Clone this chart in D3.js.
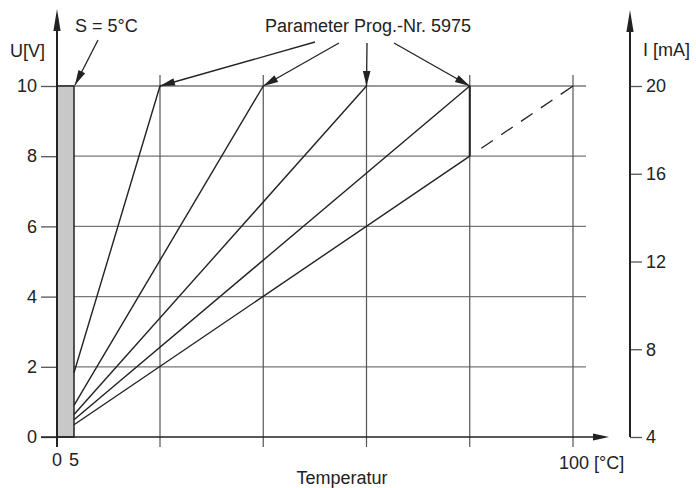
<!DOCTYPE html>
<html><head><meta charset="utf-8">
<script src="https://cdn.jsdelivr.net/npm/d3@7"></script>
<style>
body{margin:0;background:#fff}
text{font-family:"Liberation Sans",Arial,sans-serif;fill:#222;font-size:18px}
</style></head><body>
<svg id="c" width="696" height="488"></svg>
<script>
// ---- data ----
const uTicks = [0, 2, 4, 6, 8, 10];
const iTicks = [4, 8, 12, 16, 20];
const tempGrid = [20, 40, 60, 80, 100];
const xTickLabels = [0, 5];
const setpoint = 5;           // S = 5°C
const lineStartU = [1.83, 0.9, 0.64, 0.49, 0.35];   // U at 5°C
const lineEndT   = [20, 40, 60, 80, 80];
const lineEndU   = [10, 10, 10, 10, 8];
const arrowTargetsT = [20, 40, 60, 80];
const dashedFrom = [80, 8];
const dashedTo   = [100, 10];

// ---- scales ----
const svg = d3.select("#c");
const x = d3.scaleLinear().domain([0, 5, 20, 100]).range([57, 74, 160, 573]);
const y = d3.scaleLinear().domain([0, 10]).range([437, 86]);
const yI = d3.scaleLinear().domain([4, 20]).range([437, 86]);

const ink = "#222";

// horizontal grid
svg.append("g").selectAll("line").data(uTicks.filter(d => d > 0)).join("line")
  .attr("x1", x(0)).attr("x2", 586).attr("y1", d => y(d)).attr("y2", d => y(d))
  .attr("stroke", "#777").attr("stroke-width", 1.3);
// vertical grid
svg.append("g").selectAll("line").data(tempGrid).join("line")
  .attr("x1", d => x(d)).attr("x2", d => x(d)).attr("y1", 75).attr("y2", 447)
  .attr("stroke", "#555").attr("stroke-width", 1.2);

// left axis ticks
const gl = svg.append("g").attr("transform", `translate(${x(0)},0)`)
  .call(d3.axisLeft(y).tickValues(uTicks).tickSize(16).tickPadding(4).tickFormat(d3.format("d")));
gl.select(".domain").remove();
gl.selectAll(".tick line").attr("stroke", "#555").attr("stroke-width", 1.3);
gl.selectAll(".tick text").attr("font-size", "17.5px").attr("font-family", null).attr("fill", ink);

// right axis
const xr = 630;
const gr = svg.append("g").attr("transform", `translate(${xr},0)`)
  .call(d3.axisRight(yI).tickValues(iTicks).tickSize(12).tickPadding(4).tickFormat(d3.format("d")));
gr.select(".domain").remove();
gr.selectAll(".tick line").attr("stroke", "#555").attr("stroke-width", 1.3);
gr.selectAll(".tick text").attr("font-size", "17.5px").attr("font-family", null).attr("fill", ink);

// setpoint bar
svg.append("rect").attr("x", x(0)).attr("y", y(10))
  .attr("width", x(setpoint) - x(0)).attr("height", y(0) - y(10))
  .attr("fill", "#c8c8c8").attr("stroke", ink).attr("stroke-width", 1.5);

// x axis line
svg.append("line").attr("x1", 41).attr("x2", 600).attr("y1", y(0)).attr("y2", y(0))
  .attr("stroke", ink).attr("stroke-width", 1.6);
svg.append("path").attr("d", `M609,${y(0)} L593,${y(0)-3.5} L593,${y(0)+3.5} Z`).attr("fill", ink);
// left axis line
svg.append("line").attr("x1", x(0)).attr("x2", x(0)).attr("y1", 447).attr("y2", 20)
  .attr("stroke", ink).attr("stroke-width", 2);
svg.append("path").attr("d", `M${x(0)},9 L${x(0)-3.6},31 L${x(0)+3.6},31 Z`).attr("fill", ink);
// right axis line
svg.append("line").attr("x1", xr).attr("x2", xr).attr("y1", yI(4)).attr("y2", 20)
  .attr("stroke", ink).attr("stroke-width", 2);
svg.append("path").attr("d", `M${xr},10 L${xr-3.6},32 L${xr+3.6},32 Z`).attr("fill", ink);

// characteristic lines
const lines = lineStartU.map((u, i) => [[setpoint, u], [lineEndT[i], lineEndU[i]]]);
const lg = d3.line().x(d => x(d[0])).y(d => y(d[1]));
svg.append("g").selectAll("path").data(lines).join("path")
  .attr("d", lg).attr("fill", "none").attr("stroke", ink).attr("stroke-width", 1.4);
// vertical jump at 80
svg.append("path").attr("d", lg([[80, 8], [80, 10]])).attr("stroke", ink).attr("stroke-width", 2).attr("fill", "none");
// dashed continuation
svg.append("path").attr("d", lg([dashedFrom, dashedTo])).attr("fill", "none")
  .attr("stroke", ink).attr("stroke-width", 1.3)
  .attr("stroke-dasharray", "0,14,14,10,14,10,14,10,14,10,14");

// annotation arrows
function arrow(x1, y1, x2, y2) {
  svg.append("line").attr("x1", x1).attr("y1", y1).attr("x2", x2).attr("y2", y2)
    .attr("stroke", ink).attr("stroke-width", 1.3);
  const a = Math.atan2(y2 - y1, x2 - x1), L = 15, W = 3.8;
  const bx = x2 - L * Math.cos(a), by = y2 - L * Math.sin(a);
  const px = -Math.sin(a) * W, py = Math.cos(a) * W;
  svg.append("path").attr("d", `M${x2},${y2} L${bx+px},${by+py} L${bx-px},${by-py} Z`).attr("fill", ink);
}
arrow(98, 40, x(setpoint) + 1, y(10) - 1);
const starts = [[315, 42], [339, 43], [367, 43], [394, 43]];
arrowTargetsT.forEach((t, i) => arrow(starts[i][0], starts[i][1], x(t), y(10)));

// texts
svg.append("text").attr("x", 10).attr("y", 57).text("U[V]");
svg.append("text").attr("x", 75).attr("y", 32).text("S = 5°C");
svg.append("text").attr("x", 368).attr("y", 32).attr("text-anchor", "middle").text("Parameter Prog.-Nr. 5975");
svg.append("text").attr("x", 643).attr("y", 56).text("I [mA]");
svg.append("text").attr("x", 342).attr("y", 484).attr("text-anchor", "middle").text("Temperatur");
svg.append("g").selectAll("text").data(xTickLabels).join("text")
  .attr("x", d => x(d)).attr("y", 466).attr("text-anchor", "middle").text(d => d);
svg.append("text").attr("x", x(100) - 14).attr("y", 469).text("100 [°C]");
</script>
</body></html>
